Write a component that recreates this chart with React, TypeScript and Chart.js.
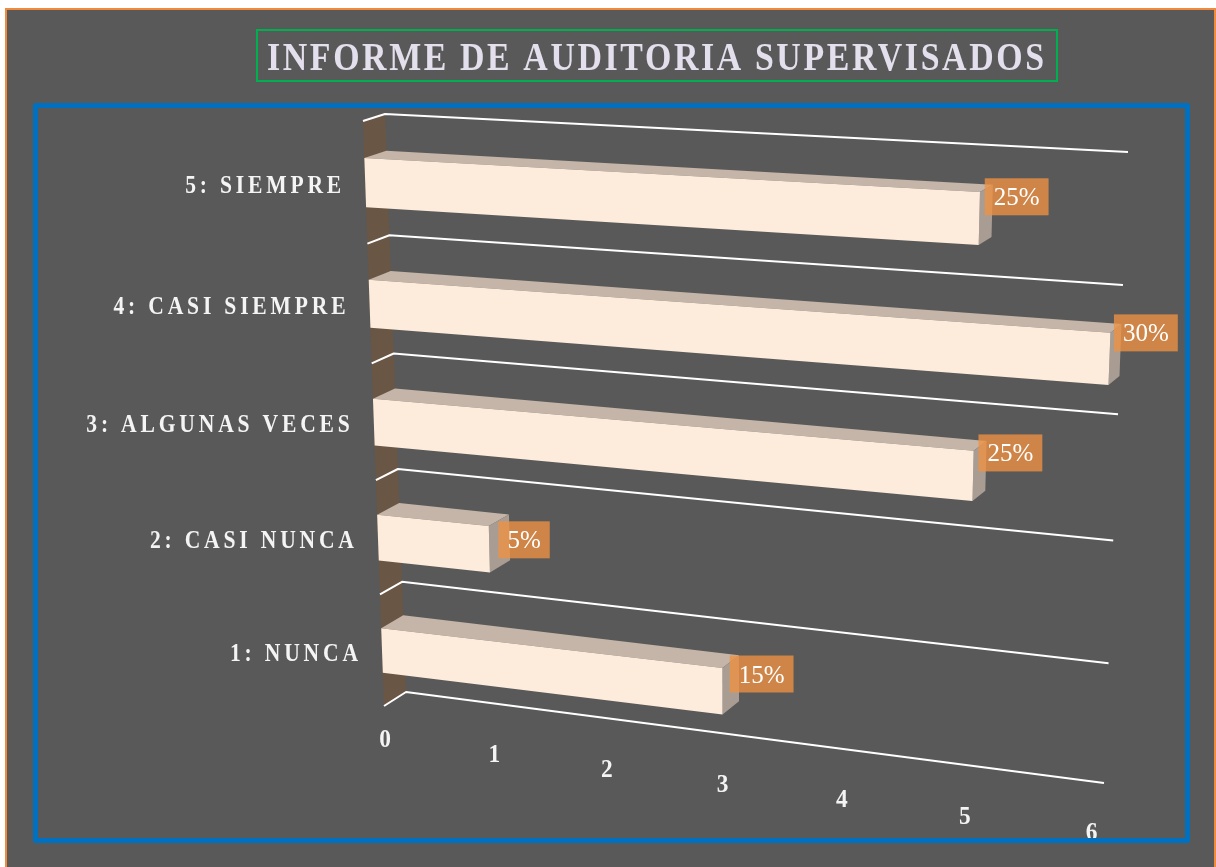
import React, { useEffect, useRef } from 'react';
import { Chart, registerables } from 'chart.js';

Chart.register(...registerables);

// ---------------- data ----------------
const categories = ['5: SIEMPRE', '4: CASI SIEMPRE', '3: ALGUNAS VECES', '2: CASI NUNCA', '1: NUNCA'];
const responses = [5, 6, 5, 1, 3];
const percentLabels = ['25%', '30%', '25%', '5%', '15%'];
const valueAxisTicks = ['0', '1', '2', '3', '4', '5', '6'];
const chartTitle = 'INFORME DE AUDITORIA SUPERVISADOS';

// ---------------- layout / style ----------------
const W = 1216;
const H = 867;
// projected corners of the back wall (value 0..max, category top..bottom)
const BACK_WALL = { tl: [385, 114], tr: [1128, 152], br: [1104, 783], bl: [406, 692] };
const COLORS = {
  page: '#FFFFFF',
  bg: '#595959',
  outer: '#F08A3C',
  titleBox: '#00B050',
  titleText: '#E4DFEC',
  frame: '#0070C0',
  wall: '#6A5645',
  grid: '#FFFFFF',
  front: '#FDEBDC',
  top: '#C4B5A8',
  end: '#A99D93',
  labelBox: 'rgba(240,146,66,0.78)',
  labelText: '#FFFFFF',
  axisText: '#F4F4F4',
};
const SERIF = '"Liberation Serif", "Times New Roman", serif';

function makeHomography(q: any) {
  const [x0, y0] = q.tl, [x1, y1] = q.tr, [x2, y2] = q.br, [x3, y3] = q.bl;
  const dx1 = x1 - x2, dx2 = x3 - x2, dx3 = x0 - x1 + x2 - x3;
  const dy1 = y1 - y2, dy2 = y3 - y2, dy3 = y0 - y1 + y2 - y3;
  const den = dx1 * dy2 - dx2 * dy1;
  const g = (dx3 * dy2 - dx2 * dy3) / den;
  const h = (dx1 * dy3 - dx3 * dy1) / den;
  const a = x1 - x0 + g * x1, b = x3 - x0 + h * x3, c = x0;
  const d = y1 - y0 + g * y1, e = y3 - y0 + h * y3, f = y0;
  return (s: number, t: number): [number, number] => {
    const w = g * s + h * t + 1;
    return [(a * s + b * t + c) / w, (d * s + e * t + f) / w];
  };
}
const backProject = makeHomography(BACK_WALL);
function frontProject(s: number, t: number): [number, number] {
  const [x, y] = backProject(s, t);
  return [x - 22 + 11 * s, y + 7 + 7 * t - s * t];
}

function spacedText(ctx: any, text: string, x: number, y: number, font: string, color: string,
  spacing: number, scaleX: number, align: 'left' | 'center' | 'right') {
  ctx.save();
  ctx.font = font;
  ctx.fillStyle = color;
  ctx.letterSpacing = spacing + 'px';
  ctx.textAlign = 'left';
  ctx.textBaseline = 'alphabetic';
  const w = (ctx.measureText(text).width - spacing) * scaleX;
  const left = align === 'left' ? x : align === 'center' ? x - w / 2 : x - w;
  ctx.translate(left, y);
  ctx.scale(scaleX, 1);
  ctx.fillText(text, 0, 0);
  ctx.restore();
}

function fittedText(ctx: any, text: string, left: number, baseline: number, width: number,
  font: string, color: string, spacing: number) {
  ctx.save();
  ctx.font = font;
  ctx.letterSpacing = spacing + 'px';
  const natural = ctx.measureText(text).width - spacing;
  ctx.restore();
  spacedText(ctx, text, left, baseline, font, color, spacing, width / natural, 'left');
}

function poly(ctx: any, pts: [number, number][], fill: string) {
  ctx.beginPath();
  ctx.moveTo(pts[0][0], pts[0][1]);
  for (let i = 1; i < pts.length; i++) ctx.lineTo(pts[i][0], pts[i][1]);
  ctx.closePath();
  ctx.fillStyle = fill;
  ctx.fill();
}

const scenePlugin = {
  id: 'scene3d',
  beforeDatasetsDraw(chart: any) {
    const ctx = chart.ctx;
    const a = chart.chartArea;
    const xs = chart.scales.x;
    const ys = chart.scales.y;
    const S = (px: number) => (px - a.left) / (a.right - a.left);
    const T = (py: number) => (py - a.top) / (a.bottom - a.top);

    ctx.save();
    // page and chart background
    ctx.fillStyle = COLORS.page;
    ctx.fillRect(0, 0, W, H);
    ctx.fillStyle = COLORS.bg;
    ctx.fillRect(5, 8, W - 5, H - 8);
    ctx.strokeStyle = COLORS.outer;
    ctx.lineWidth = 2;
    ctx.strokeRect(6, 9, 1209, H + 10);

    // title
    ctx.strokeStyle = COLORS.titleBox;
    ctx.lineWidth = 2;
    ctx.strokeRect(257, 30, 800, 51);
    fittedText(ctx, chartTitle, 267, 70, 777, 'bold 39px ' + SERIF, COLORS.titleText, 3);

    // geometry from scales
    const n = categories.length;
    const p0 = ys.getPixelForTick(0);
    const band = ys.getPixelForTick(1) - p0;
    const bounds: number[] = [];
    for (let k = 0; k <= n; k++) bounds.push(T(p0 - band / 2 + k * band));
    const tTop = bounds[0];
    const tBot = bounds[n];
    const bandT = band / (a.bottom - a.top);
    const s0 = S(xs.getPixelForValue(xs.min));
    const sMax = S(xs.getPixelForValue(xs.max));

    // floor / side wall at value 0
    poly(ctx, [frontProject(s0, tTop), frontProject(s0, tBot), backProject(s0, tBot), backProject(s0, tTop)], COLORS.wall);

    // category gridlines
    ctx.strokeStyle = COLORS.grid;
    ctx.lineWidth = 2;
    ctx.lineJoin = 'round';
    bounds.forEach((t) => {
      const f = frontProject(s0, t);
      const b = backProject(s0, t);
      const e = backProject(sMax, t);
      ctx.beginPath();
      ctx.moveTo(f[0], f[1]);
      ctx.lineTo(b[0], b[1]);
      ctx.lineTo(e[0], e[1]);
      ctx.stroke();
    });

    // bars
    const meta = chart.getDatasetMeta(0);
    meta.data.forEach((el: any) => {
      const p = el.getProps(['x', 'y', 'base', 'height'], true);
      const sL = S(p.base), sR = S(p.x);
      const tT = T(p.y - p.height / 2), tB = T(p.y + p.height / 2);
      const FTL = frontProject(sL, tT), FTR = frontProject(sR, tT);
      const FBR = frontProject(sR, tB), FBL = frontProject(sL, tB);
      const BTL = backProject(sL, tT), BTR = backProject(sR, tT), BBR = backProject(sR, tB);
      poly(ctx, [FTL, FTR, BTR, BTL], COLORS.top);
      poly(ctx, [FTR, BTR, BBR, FBR], COLORS.end);
      poly(ctx, [FTL, FTR, FBR, FBL], COLORS.front);
    });

    // data labels
    meta.data.forEach((el: any, i: number) => {
      const p = el.getProps(['x', 'y'], true);
      const sR = S(p.x), tC = T(p.y);
      const fr = frontProject(sR, tC);
      const br = backProject(sR, tC);
      const bx = (fr[0] + br[0]) / 2 - 1;
      const cy = (fr[1] + br[1]) / 2 - 3.6 * responses[i];
      const txt = percentLabels[i];
      ctx.font = '25px ' + SERIF;
      ctx.letterSpacing = '0px';
      const tw = ctx.measureText(txt).width;
      const bw = tw + 18, bh = 37;
      ctx.fillStyle = COLORS.labelBox;
      ctx.fillRect(bx, cy - bh / 2, bw, bh);
      ctx.fillStyle = COLORS.labelText;
      ctx.textAlign = 'center';
      ctx.textBaseline = 'alphabetic';
      ctx.fillText(txt, bx + bw / 2, cy + 8.5);
    });

    // category labels
    const labels = ys.getLabels();
    labels.forEach((lab: string, i: number) => {
      const t = T(ys.getPixelForTick(i));
      const [fx, fy] = frontProject(s0, t);
      spacedText(ctx, lab, fx - 24, fy + 1.5 + 8.6, 'bold 26px ' + SERIF, COLORS.axisText, 4.6, 0.83, 'right');
    });

    // value axis tick labels
    const tLab = tBot + 0.3 * bandT;
    xs.ticks.forEach((tk: any) => {
      const s = S(xs.getPixelForValue(tk.value));
      const [lx, ly] = frontProject(s, tLab);
      const txt = valueAxisTicks[tk.value] ?? String(tk.value);
      spacedText(ctx, txt, lx, ly + 8.5, 'bold 26px ' + SERIF, COLORS.axisText, 0, 0.9, 'center');
    });

    // plot frame
    ctx.strokeStyle = COLORS.frame;
    ctx.lineWidth = 5;
    ctx.strokeRect(35.5, 105.5, 1152, 735);
    ctx.restore();
    return false;
  },
};

export default function App() {
  const ref = useRef<HTMLCanvasElement | null>(null);
  useEffect(() => {
    if (!ref.current) return;
    const chart = new Chart(ref.current, {
      type: 'bar',
      data: {
        labels: categories,
        datasets: [{
          label: 'Respuestas',
          data: responses,
          backgroundColor: COLORS.front,
          barPercentage: 0.4,
          categoryPercentage: 1,
        }],
      },
      options: {
        indexAxis: 'y',
        responsive: false,
        maintainAspectRatio: false,
        animation: false,
        layout: { padding: 0 },
        plugins: {
          legend: { display: false },
          tooltip: { enabled: false },
          title: { display: false },
        },
        scales: {
          x: {
            type: 'linear',
            min: 0,
            max: valueAxisTicks.length - 1,
            display: false,
            ticks: { stepSize: 1 },
          },
          y: { type: 'category', display: false, offset: true },
        },
      },
      plugins: [scenePlugin],
    } as any);
    return () => chart.destroy();
  }, []);
  return (
    <div style={{ position: 'absolute', left: 0, top: 0, width: W, height: H, background: '#fff' }}>
      <canvas ref={ref} width={W} height={H} style={{ display: 'block', width: W, height: H }} />
    </div>
  );
}
